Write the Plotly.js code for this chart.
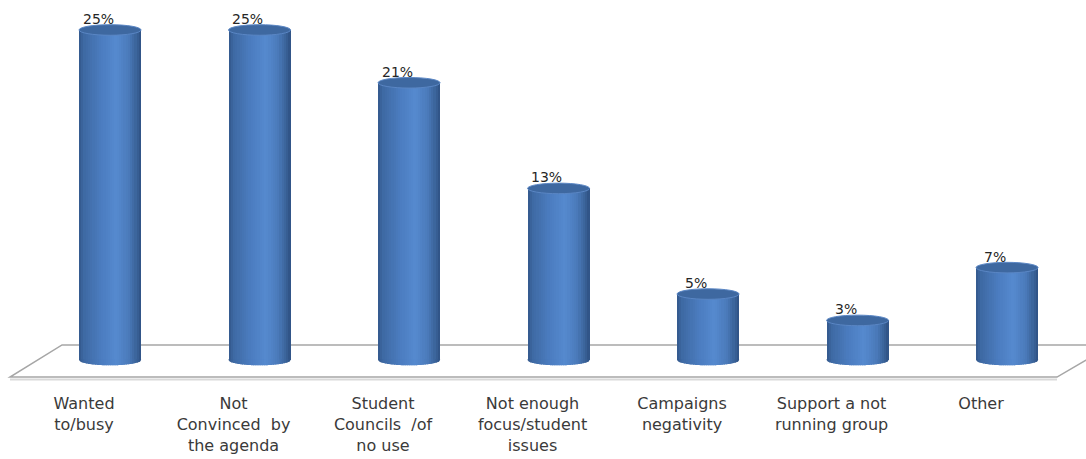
<!DOCTYPE html>
<html>
<head>
<meta charset="utf-8">
<script src="https://cdn.plot.ly/plotly-3.0.1.min.js"></script>
<style>html,body{margin:0;padding:0;background:#fff;}#chart{width:1086px;height:459px;}</style>
</head>
<body>
<div id="chart"></div>
<script>
// ---- data ----
const categories = ["Wanted to/busy", "Not Convinced by the agenda", "Student Councils /of no use",
  "Not enough focus/student issues", "Campaigns negativity", "Support a not running group", "Other"];
const values = [25, 25, 21, 13, 5, 3, 7];
const tickLabels = ["Wanted<br>to/busy", "Not<br>Convinced  by<br>the agenda", "Student<br>Councils  /of<br>no use",
  "Not enough<br>focus/student<br>issues", "Campaigns<br>negativity", "Support a not<br>running group", "Other"];
const valueLabels = values.map(v => v + "%");

// ---- style ----
const idx = categories.map((_, i) => i);
const W = 0.415;           // cylinder width (x units)
const EH = 0.40;           // ellipse half-height (y units)

// horizontal shading of the cylinder (style only)
const stopPos = [0, 0.08, 0.35, 0.6, 0.8, 0.93, 1];
const stopCol = ['#33578A', '#3E69A3', '#4B7CBF', '#558ACF', '#4A7ABA', '#3A6298', '#2E5083'];
function hex2rgb(h) { return [1, 3, 5].map(p => parseInt(h.substr(p, 2), 16)); }
function colAt(t) {
  let j = 0;
  while (j < stopPos.length - 2 && t > stopPos[j + 1]) j++;
  const f = (t - stopPos[j]) / (stopPos[j + 1] - stopPos[j]);
  const a = hex2rgb(stopCol[j]), b = hex2rgb(stopCol[j + 1]);
  const c = a.map((v, q) => Math.round(v + (b[q] - v) * f));
  return `rgb(${c[0]},${c[1]},${c[2]})`;
}
const N = 28;
const stripColors = Array.from({ length: N }, (_, k) => colAt((k + 0.5) / N));
const sw = W / N;

const traces = stripColors.map((col, k) => ({
  type: 'bar', x: idx, y: values, base: 0,
  width: k === N - 1 ? sw : sw * 1.6, offset: -W / 2 + k * sw,
  marker: { color: col, line: { width: 0 } },
  hoverinfo: 'skip', showlegend: false
}));

const shapes = [];
// floor (decoration)
const yBack = 1.14, yFront = -1.29;
shapes.push({ type: 'path', xref: 'x', yref: 'y', layer: 'below',
  path: `M -0.321,${yBack} L 6.70,${yBack} L 6.334,${yFront} L -0.669,${yFront} Z`,
  line: { color: '#A6A6A6', width: 1.5 }, fillcolor: 'rgba(255,255,255,0)' });
shapes.push({ type: 'path', xref: 'x', yref: 'y', layer: 'below',
  path: `M -0.669,${yFront - 0.18} L 6.334,${yFront - 0.18}`,
  line: { color: '#D9D9D9', width: 2 } });

// bottom ellipse halves, in strips
idx.forEach(i => {
  stripColors.forEach((col, k) => {
    const a = -W / 2 + k * sw, b = Math.min(a + sw * 1.6, W / 2);
    const pts = [];
    const M = 3;
    for (let m = 0; m <= M; m++) {
      const dx = a + (b - a) * m / M;
      const t = Math.max(0, 1 - Math.pow(dx / (W / 2), 2));
      pts.push(`${(i + dx).toFixed(4)},${(-EH * Math.sqrt(t)).toFixed(4)}`);
    }
    shapes.push({ type: 'path', xref: 'x', yref: 'y', layer: 'above',
      path: `M ${(i + a).toFixed(4)},0.05 L ${pts.join(' L ')} L ${(i + b).toFixed(4)},0.05 Z`,
      fillcolor: col, line: { width: 0 } });
  });
});

// top ellipses
idx.forEach(i => {
  shapes.push({ type: 'circle', xref: 'x', yref: 'y', layer: 'above',
    x0: i - W / 2, x1: i + W / 2, y0: values[i] - EH, y1: values[i] + EH,
    fillcolor: '#3E68A0', line: { color: '#5A86C4', width: 1 } });
});

const annotations = idx.map(i => ({
  x: i - 0.08, y: values[i] + EH * 0.2, xref: 'x', yref: 'y',
  text: valueLabels[i], showarrow: false, yanchor: 'bottom', yshift: 0,
  font: { family: 'DejaVu Sans', size: 14, color: '#262626' }
}));

const layout = {
  width: 1086, height: 459,
  margin: { l: 0, r: 0, t: 0, b: 69 },
  paper_bgcolor: '#ffffff', plot_bgcolor: '#ffffff',
  barmode: 'overlay', bargap: 0,
  showlegend: false,
  xaxis: {
    range: [-0.736, 6.528], tickmode: 'array',
    tickvals: idx.map(i => i - 0.174), ticktext: tickLabels,
    showgrid: false, zeroline: false, showline: false, ticks: '',
    ticklabelstandoff: 2,
    tickfont: { family: 'DejaVu Sans', size: 16, color: '#3A3A3A' },
    fixedrange: true
  },
  yaxis: {
    range: [-2.27, 27.27], showgrid: false, zeroline: false, showline: false,
    showticklabels: false, ticks: '', fixedrange: true
  },
  shapes: shapes,
  annotations: annotations
};

Plotly.newPlot('chart', traces, layout, { staticPlot: true, displayModeBar: false });
</script>
</body>
</html>
